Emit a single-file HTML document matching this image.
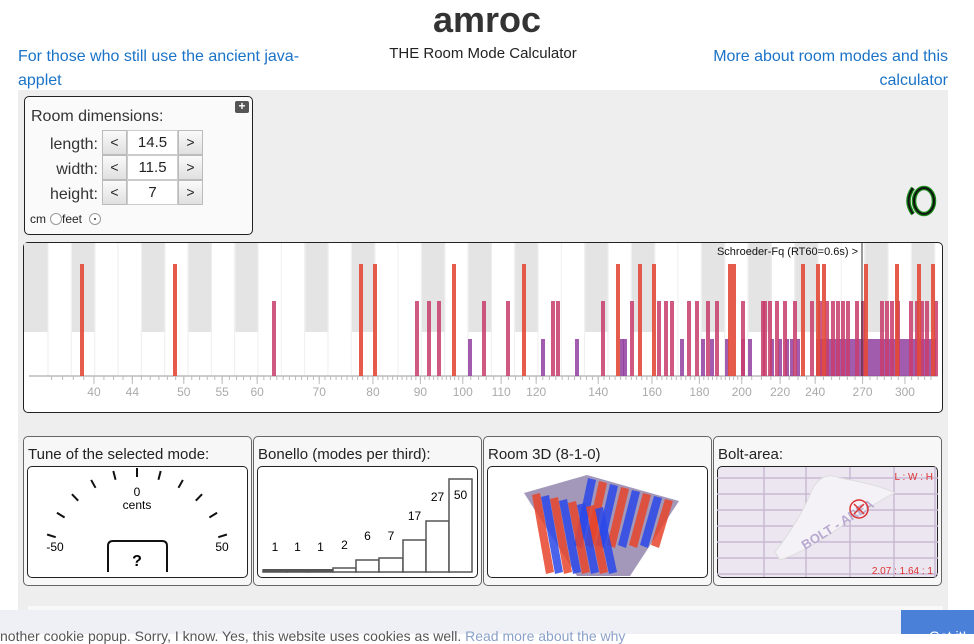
<!DOCTYPE html>
<html><head><meta charset="utf-8"><style>
*{box-sizing:border-box;margin:0;padding:0}
body{width:974px;height:634px;overflow:hidden;background:#fff;font-family:"Liberation Sans",Arial,sans-serif;color:#222;position:relative}
.a{position:absolute}
.lnk{color:#1a73c8;font-size:16px}
.box{position:absolute;border:1px solid #222;border-radius:5px;background:#fafafa}
.pn{position:absolute;border:1px solid #666;border-radius:5px;background:#f7f7f7}
.pn h3{position:absolute;left:4px;top:9px;font-size:15px;font-weight:normal;color:#222}
.in{position:absolute;left:3px;top:29px;right:3px;bottom:7px;border:1px solid #222;border-radius:5px;background:#fff;overflow:hidden}
.btn{position:absolute;width:25px;height:25px;border:1px solid #bbb;background:linear-gradient(#fafafa,#e0e0e0);font-size:14px;text-align:center;line-height:23px}
.val{position:absolute;width:51px;height:25px;border:1px solid #ccc;background:#fff;font-size:15px;text-align:center;line-height:23px}
.lb{position:absolute;font-size:16px;text-align:right;width:75px;color:#333}
</style></head><body>
<div class="a" style="left:0;width:974px;top:0;text-align:center;font-size:36px;font-weight:bold;color:#333;line-height:40px">amroc</div>
<div class="a lnk" style="left:18px;top:45px;line-height:24px">For those who still use the ancient java-<br>applet</div>
<div class="a" style="left:0;width:966px;top:44px;text-align:center;font-size:15px;line-height:20px;color:#222">THE Room Mode Calculator</div>
<div class="a lnk" style="right:26px;top:45px;line-height:24px;text-align:right">More about room modes and this<br>calculator</div>
<div class="a" style="left:18px;top:90px;width:930px;height:520px;background:#eee"></div>

<div class="box" style="left:24px;top:96px;width:229px;height:139px">
<div class="a" style="left:210px;top:4px;width:14px;height:12px;background:#555;border-radius:2px;color:#fff;font-size:12px;line-height:11px;text-align:center;font-weight:bold">+</div>
<div class="a" style="left:6px;top:11px;font-size:16px;color:#333">Room dimensions:</div>
<div class="lb" style="left:-2px;top:39px">length:</div>
<div class="lb" style="left:-2px;top:64px">width:</div>
<div class="lb" style="left:-2px;top:89px">height:</div>
<div class="btn" style="left:77px;top:33px">&lt;</div><div class="val" style="left:102px;top:33px">14.5</div><div class="btn" style="left:153px;top:33px">&gt;</div>
<div class="btn" style="left:77px;top:58px">&lt;</div><div class="val" style="left:102px;top:58px">11.5</div><div class="btn" style="left:153px;top:58px">&gt;</div>
<div class="btn" style="left:77px;top:83px">&lt;</div><div class="val" style="left:102px;top:83px">7</div><div class="btn" style="left:153px;top:83px">&gt;</div>
<div class="a" style="left:5px;top:115px;font-size:12px">cm</div>
<div class="a" style="left:25px;top:116px;width:12px;height:12px;border:1px solid #999;border-radius:50%;background:#fff"></div>
<div class="a" style="left:37px;top:115px;font-size:12px">feet</div>
<div class="a" style="left:64px;top:116px;width:12px;height:12px;border:1px solid #999;border-radius:50%;background:#fff"><div class="a" style="left:4px;top:4px;width:2px;height:2px;background:#333;border-radius:50%"></div></div>
</div>

<svg class="a" style="left:900px;top:183px" width="42" height="36"><path d="M13 5 Q4 18 13 31" stroke="#1a8a1a" stroke-width="4.5" fill="none"/><path d="M13 5 Q4 18 13 31" stroke="#111" stroke-width="2" fill="none"/><ellipse cx="24" cy="18" rx="10" ry="13" stroke="#1a8a1a" stroke-width="4.5" fill="none"/><ellipse cx="24" cy="18" rx="10" ry="13" stroke="#111" stroke-width="2" fill="none"/></svg>

<div class="box" style="left:23px;top:242px;width:920px;height:171px;background:#fff"></div>
<svg id="ch" class="a" style="left:0;top:0" width="974" height="634"></svg>

<div class="pn" style="left:23px;top:436px;width:229px;height:150px"><h3>Tune of the selected mode:</h3><div class="in"></div></div>
<div class="pn" style="left:253px;top:436px;width:229px;height:150px"><h3>Bonello (modes per third):</h3><div class="in"></div></div>
<div class="pn" style="left:483px;top:436px;width:229px;height:150px"><h3>Room 3D (8-1-0)</h3><div class="in"></div></div>
<div class="pn" style="left:713px;top:436px;width:229px;height:150px"><h3>Bolt-area:</h3><div class="in" style="background:#ece6f0"></div></div>
<svg id="bt" class="a" style="left:0;top:0" width="974" height="634"></svg>

<div class="a" style="left:28px;top:606px;width:915px;height:10px;background:#f8f8f8"></div>
<div class="a" style="left:0;top:610px;width:974px;height:24px;background:#eef0f6"></div>
<div class="a" style="left:0;top:628px;font-size:14px;color:#555;white-space:nowrap">nother cookie popup. Sorry, I know. Yes, this website uses cookies as well. <span style="color:#8aa0c8">Read more about the why</span></div>
<div class="a" style="left:901px;top:610px;width:73px;height:24px;background:#4a80d8;color:#fff;font-size:14px;padding:18px 0 0 28px">Got it!</div>

<script>
var NS="http://www.w3.org/2000/svg";
function el(p,t,a,txt){var e=document.createElementNS(NS,t);for(var k in a)e.setAttribute(k,a[k]);if(txt!=null)e.textContent=txt;p.appendChild(e);return e;}
var s=document.getElementById('ch');
var st=23.33;
var pat=[3,2,2,3,2];var x=72,i=0;
el(s,'rect',{x:24,y:243,width:24,height:89,fill:'#e4e4e4'});
while(x<938){var w=Math.min(st,938-x);el(s,'rect',{x:x,y:243,width:w,height:89,fill:'#e4e4e4'});x+=pat[i%5]*st;i++;}
for(var v=48;v<938;v+=st)el(s,'line',{x1:v,y1:243,x2:v,y2:376,stroke:'#eee','stroke-width':1});
el(s,'line',{x1:29,y1:376,x2:938,y2:376,stroke:'#ccc','stroke-width':2});
function fx(f){return -1390.8+402.5*Math.log(f);}
for(var f=36;f<=320;f+=(f<100?1:(f<200?2:5))){var xx=fx(f);if(xx>30&&xx<937)el(s,'line',{x1:xx,y1:376,x2:xx,y2:380,stroke:'#bbb'});}
[40,44,50,55,60,70,80,90,100,110,120,140,160,180,200,220,240,270,300].forEach(function(f){var xx=fx(f);el(s,'line',{x1:xx,y1:376,x2:xx,y2:384,stroke:'#bbb'});el(s,'text',{x:xx,y:396,'text-anchor':'middle','font-size':12,fill:'#aaa'},f);});
var tall=[82,175,361,375,454,524,618,640,654,730,734,803,818,824,866,897,919,933];
var med=[274,417,429,439,484,508,553,558,603,632,659,666,672,689,697,708,717,743,763,765,770,777,785,795,812,820,827,833,838,843,848,857,863,882,887,892,898,911,917,922,927,936];
var sh=[470,543,577,622,625,682,703,712,727,743,750,772,780,787,792,798];
for(var q=818;q<938;q+=4)sh.push(q);
sh.forEach(function(b){el(s,'rect',{x:b-2,y:339,width:4,height:37,fill:'#9040a0',opacity:.85});});
med.forEach(function(b){el(s,'rect',{x:b-2,y:301,width:4,height:75,fill:'#c83c6c',opacity:.85});});
tall.forEach(function(b){el(s,'rect',{x:b-2,y:264,width:4,height:112,fill:'#e24a38',opacity:.9});});
el(s,'line',{x1:862,y1:243,x2:862,y2:376,stroke:'#333','stroke-width':1});
el(s,'text',{x:858,y:255,'text-anchor':'end','font-size':11,fill:'#111'},'Schroeder-Fq (RT60=0.6s) >');

var b=document.getElementById('bt');
var cx=137,cy=562,r=94;
for(var k=-5;k<=5;k++){var a=k*14.6*Math.PI/180;var sx=Math.sin(a),sy=-Math.cos(a);el(b,'line',{x1:cx+sx*r,y1:cy+sy*r,x2:cx+sx*(r-9),y2:cy+sy*(r-9),stroke:'#111','stroke-width':2});}
el(b,'text',{x:137,y:496,'text-anchor':'middle','font-size':12},'0');
el(b,'text',{x:137,y:509,'text-anchor':'middle','font-size':12},'cents');
el(b,'text',{x:55,y:551,'text-anchor':'middle','font-size':12},'-50');
el(b,'text',{x:222,y:551,'text-anchor':'middle','font-size':12},'50');
el(b,'path',{d:'M108 572 V546 Q108 541 113 541 H162 Q167 541 167 546 V572',fill:'none',stroke:'#111','stroke-width':2});
el(b,'text',{x:137,y:566,'text-anchor':'middle','font-size':16,'font-weight':'bold'},'?');
var bx=[263,287,308,333,356,379,403,426,449,472];var tops=[570,570,570,568,560,558,540,521,479];var vals=[1,1,1,2,6,7,17,27,50];
var ly=[551,551,551,549,540,540,520,501,499];
for(var j=0;j<9;j++){el(b,'rect',{x:bx[j],y:tops[j],width:bx[j+1]-bx[j],height:572-tops[j],fill:'#fff',stroke:'#555','stroke-width':1.5});el(b,'text',{x:(bx[j]+bx[j+1])/2,y:ly[j],'text-anchor':'middle','font-size':12},vals[j]);}
el(b,'rect',{x:263,y:569,width:70,height:3,fill:'#555'});
el(b,'polygon',{points:'524,493 587,475 679,501 630,576 577,576',fill:'#8c7ea8',opacity:.8});
var cols=['#e8442a','#2a48e8'];
for(var m=0;m<8;m++){var x0=532+m*9,x1=588+m*11;el(b,'polygon',{points:(x0)+','+(495+m*2)+' '+(x0+8)+','+(493+m*2)+' '+(x0+22)+','+(572)+' '+(x0+14)+','+(574),fill:cols[m%2],opacity:.85});el(b,'polygon',{points:x1+','+(478+m*3)+' '+(x1+8)+','+(480+m*3)+' '+(x1-6)+','+(548)+' '+(x1-14)+','+(545),fill:cols[(m+1)%2],opacity:.85});}
for(var g=0;g<7;g++){el(b,'line',{x1:717,y1:478+g*16,x2:938,y2:478+g*16,stroke:'#c8b8d4','stroke-width':1.5});}
[764,806,850,894,935].forEach(function(g){el(b,'line',{x1:g,y1:467,x2:g,y2:577,stroke:'#c8b8d4','stroke-width':1.5});});
el(b,'path',{d:'M775 552 Q800 520 812 490 Q822 470 840 478 Q880 485 895 493 Q880 500 850 520 Q810 550 780 560 Z',fill:'#f4f2f6',stroke:'#ddd'});
el(b,'text',{x:805,y:550,'font-size':13,fill:'#b8a8d0','font-weight':'bold',transform:'rotate(-32 805 550)'},'BOLT - AREA');
el(b,'circle',{cx:859,cy:509,r:9,fill:'none',stroke:'#d33','stroke-width':1.5});
el(b,'path',{d:'M854 504 L864 514 M864 504 L854 514',stroke:'#d33','stroke-width':1.5});
el(b,'text',{x:933,y:480,'text-anchor':'end','font-size':10,fill:'#d33'},'L : W : H');
el(b,'text',{x:933,y:574,'text-anchor':'end','font-size':10,fill:'#d33'},'2.07 : 1.64 : 1');
</script>
</body></html>
